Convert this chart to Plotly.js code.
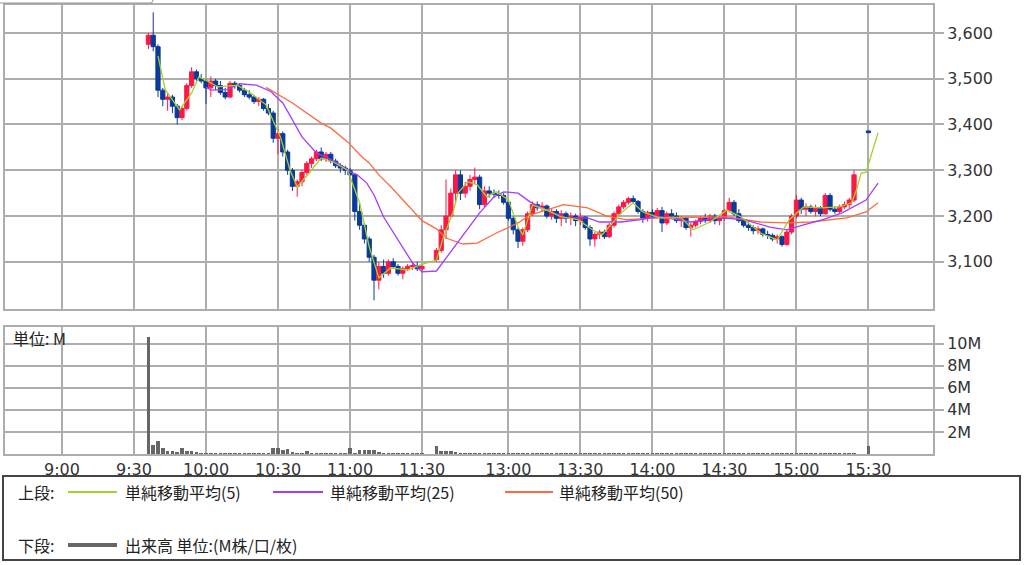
<!DOCTYPE html>
<html><head><meta charset="utf-8">
<script src="https://cdn.plot.ly/plotly-3.0.1.min.js"></script>
<style>html,body{margin:0;padding:0;background:#fff}#chart{width:1024px;height:565px}</style>
</head><body><div id="chart"></div>
<script>
// ---- data (2-minute bars) ----
const times = ['9:36','9:38','9:40','9:42','9:44','9:46','9:48','9:50','9:52','9:54','9:56','9:58',
'10:00','10:02','10:04','10:06','10:08','10:10','10:12','10:14','10:16','10:18','10:20','10:22','10:24','10:26','10:28','10:30','10:32','10:34','10:36','10:38','10:40','10:42','10:44','10:46','10:48','10:50','10:52','10:54','10:56','10:58',
'11:00','11:02','11:04','11:06','11:08','11:10','11:12','11:14','11:16','11:18','11:20','11:22','11:24','11:26','11:28','11:30',
'12:30','12:32','12:34','12:36','12:38','12:40','12:42','12:44','12:46','12:48','12:50','12:52','12:54','12:56','12:58',
'13:00','13:02','13:04','13:06','13:08','13:10','13:12','13:14','13:16','13:18','13:20','13:22','13:24','13:26','13:28','13:30','13:32','13:34','13:36','13:38','13:40','13:42','13:44','13:46','13:48','13:50','13:52','13:54','13:56','13:58',
'14:00','14:02','14:04','14:06','14:08','14:10','14:12','14:14','14:16','14:18','14:20','14:22','14:24','14:26','14:28','14:30','14:32','14:34','14:36','14:38','14:40','14:42','14:44','14:46','14:48','14:50','14:52','14:54','14:56','14:58',
'15:00','15:02','15:04','15:06','15:08','15:10','15:12','15:14','15:16','15:18','15:20','15:22','15:24','15:30'];
const openP = [3575,3595,3570,3475,3455,3460,3440,3415,3435,3485,3515,3500,
3495,3480,3495,3485,3470,3460,3490,3485,3475,3465,3460,3450,3455,3435,3425,3370,3380,3340,3300,3265,3275,3295,3315,3325,3340,3325,3335,3320,3310,3305,
3300,3290,3210,3180,3150,3110,3060,3090,3075,3100,3090,3075,3085,3090,3092,3085,
3105,3125,3170,3200,3250,3290,3250,3265,3280,3285,3225,3255,3250,3248,3245,
3230,3195,3170,3145,3170,3205,3225,3218,3222,3200,3210,3195,3205,3195,3200,3190,3198,3175,3150,3160,3165,3155,3180,3205,3220,3230,3238,3232,3210,3195,
3208,3200,3212,3185,3205,3200,3190,3195,3175,3180,3188,3195,3190,3200,3190,3195,3212,3230,3205,3190,3180,3175,3168,3172,3160,3158,3150,3155,3138,3165,
3200,3235,3215,3220,3210,3218,3205,3245,3215,3210,3220,3225,3235,3386];
const highP = [3600,3645,3575,3480,3470,3465,3445,3440,3490,3525,3520,3510,
3500,3505,3500,3495,3480,3495,3495,3490,3480,3475,3465,3460,3458,3445,3430,3390,3385,3345,3305,3280,3300,3320,3330,3345,3350,3340,3340,3325,3315,3310,
3305,3292,3230,3185,3155,3115,3100,3105,3105,3108,3095,3090,3095,3098,3100,3095,
3130,3180,3280,3260,3300,3300,3275,3290,3306,3290,3265,3265,3258,3256,3250,
3235,3200,3175,3175,3210,3232,3232,3230,3225,3215,3215,3213,3210,3208,3205,3205,3200,3180,3165,3170,3170,3185,3210,3225,3235,3242,3245,3235,3215,3212,
3215,3218,3220,3210,3215,3208,3200,3198,3185,3192,3200,3205,3205,3205,3200,3215,3240,3235,3215,3195,3188,3180,3178,3175,3168,3162,3160,3158,3170,3205,
3246,3240,3228,3225,3225,3222,3250,3250,3222,3225,3232,3240,3300,3386];
const lowP = [3565,3560,3460,3440,3430,3425,3400,3410,3430,3480,3495,3490,
3445,3460,3475,3465,3455,3458,3478,3470,3460,3455,3445,3440,3430,3420,3360,3335,3330,3290,3255,3242,3265,3290,3305,3320,3320,3318,3315,3305,3295,3290,
3280,3190,3170,3140,3100,3016,3040,3065,3070,3085,3070,3062,3080,3082,3080,3080,
3100,3120,3150,3195,3230,3235,3240,3255,3270,3215,3220,3240,3240,3238,3225,
3190,3160,3130,3135,3165,3200,3212,3210,3195,3192,3185,3178,3185,3180,3178,3180,3170,3135,3133,3150,3150,3152,3175,3200,3215,3225,3228,3205,3185,3188,
3195,3195,3165,3180,3195,3185,3176,3170,3155,3175,3182,3185,3185,3182,3180,3190,3208,3200,3185,3175,3168,3160,3160,3155,3150,3145,3140,3133,3135,3160,
3195,3205,3200,3205,3200,3200,3203,3210,3205,3205,3215,3218,3230,3382];
const closeP = [3595,3570,3475,3455,3460,3440,3415,3435,3485,3515,3500,3495,
3480,3495,3485,3470,3460,3490,3485,3475,3465,3460,3450,3455,3435,3425,3370,3380,3340,3300,3265,3275,3295,3315,3325,3340,3325,3335,3320,3310,3305,3300,
3290,3210,3180,3150,3110,3060,3090,3075,3100,3090,3075,3085,3090,3092,3085,3090,
3125,3170,3200,3250,3290,3250,3265,3280,3285,3225,3255,3250,3248,3245,3230,
3195,3170,3145,3170,3205,3225,3218,3222,3200,3210,3195,3205,3195,3200,3190,3198,3175,3150,3160,3165,3155,3180,3205,3220,3230,3238,3232,3210,3195,3208,
3200,3212,3185,3205,3200,3190,3195,3175,3180,3188,3195,3190,3200,3190,3195,3212,3230,3205,3190,3180,3175,3168,3172,3160,3158,3150,3155,3138,3165,3200,
3235,3215,3220,3210,3218,3205,3245,3215,3210,3220,3225,3235,3290,3382];
const volumeM = [10.6,0.8,1.2,0.5,0.3,0.3,0.2,0.5,0.3,0.25,0.2,0.1,
0.08,0.06,0.05,0.05,0.05,0.06,0.05,0.05,0.05,0.05,0.05,0.05,0.06,0.08,0.5,0.5,0.35,0.45,0.2,0.1,0.08,0.3,0.08,0.06,0.06,0.05,0.05,0.05,0.05,0.08,
0.5,0.1,0.4,0.4,0.35,0.4,0.2,0.1,0.08,0.06,0.05,0.05,0.05,0.05,0.05,0.06,
0.7,0.3,0.3,0.3,0.15,0.1,0.1,0.1,0.1,0.1,0.1,0.1,0.1,0.1,0.1,
0.12,0.12,0.12,0.12,0.12,0.12,0.12,0.12,0.12,0.12,0.12,0.12,0.12,0.12,0.12,0.12,0.12,0.12,0.12,0.12,0.12,0.12,0.12,0.12,0.12,0.12,0.12,0.12,0.12,0.12,
0.12,0.12,0.12,0.12,0.12,0.12,0.12,0.12,0.12,0.12,0.12,0.12,0.12,0.12,0.12,0.12,0.12,0.12,0.12,0.12,0.12,0.12,0.12,0.12,0.12,0.12,0.12,0.12,0.12,0.12,
0.12,0.12,0.12,0.12,0.12,0.12,0.12,0.12,0.12,0.12,0.12,0.12,0.12,0.75];

// moving averages as drawn
const ma5Times = ['9:40','9:43','9:49','9:54','9:57','10:00','10:05','10:13','10:18','10:25','10:31','10:35','10:38','10:43','10:48','10:53','10:59','11:04','11:08','11:12','11:17','11:24','11:29','12:30','12:33','12:37','12:39','12:43','12:47','12:51','12:55','13:00','13:04','13:06','13:10','13:16','13:22','13:29','13:35','13:39','13:47','13:52','13:56','14:03','14:12','14:17','14:24','14:31','14:37','14:45','14:52','14:57','15:03','15:10','15:18','15:23','15:25','15:27','15:29','15:32','15:34'];
const ma5 = [3550,3476,3432,3469,3504,3497,3482,3486,3471,3443,3373,3300,3264,3294,3327,3318,3300,3229,3133,3065,3087,3082,3093,3104,3155,3210,3250,3275,3268,3242,3253,3235,3176,3159,3224,3213,3198,3192,3170,3159,3207,3229,3209,3196,3196,3170,3187,3213,3198,3163,3148,3192,3220,3218,3220,3229,3257,3294,3296,3345,3382];
const ma25Times = ['10:00','10:02','10:09','10:14','10:21','10:27','10:32','10:36','10:40','10:46','10:55','11:00','11:03','11:07','11:10','11:14','11:21','11:26','11:30','12:30','12:34','12:40','12:48','12:54','12:58','13:04','13:09','13:16','13:24','13:33','13:38','13:47','13:55','14:03','14:16','14:28','14:38','14:49','14:56','15:03','15:11','15:19','15:29','15:34'];
const ma25 = [3482,3475,3476,3489,3486,3472,3447,3410,3373,3338,3316,3297,3290,3272,3246,3198,3141,3098,3078,3080,3108,3150,3207,3242,3253,3250,3231,3213,3196,3196,3187,3187,3192,3199,3187,3196,3192,3176,3170,3181,3192,3207,3235,3272];
const ma50Times = ['10:25','10:36','10:48','10:52','10:59','11:05','11:08','11:12','11:17','11:26','11:30','12:30','12:34','12:41','12:47','12:55','13:04','13:09','13:23','13:33','13:41','13:49','14:00','14:07','14:31','14:45','14:56','15:06','15:21','15:29','15:34'];
const ma50 = [3481,3447,3403,3392,3362,3329,3316,3290,3264,3213,3190,3172,3152,3139,3141,3163,3185,3202,3225,3218,3200,3192,3196,3197,3198,3187,3185,3187,3196,3209,3229];

const xTickLabels = ['9:00','9:30','10:00','10:30','11:00','11:30','13:00','13:30','14:00','14:30','15:00','15:30'];
const priceTicks = [3100,3200,3300,3400,3500,3600];
const volTicks = [2,4,6,8,10];
const volTickLabels = ['2M','4M','6M','8M','10M'];

// ---- scale helpers ----
// time -> axis minutes (lunch break compressed)
function toX(s){ const p=s.split(':').map(Number); let t=(p[0]-9)*60+p[1]; if(t>=210) t-=54; return t; }
const L=5, R=933, T=5, B=454, W=1024, H=565;
const px = x => (x-L)/(R-L);
const py = y => (B-y)/(B-T);

const GRID='#adadad', FONT='DejaVu Sans', JP='Noto Sans CJK JP';
const xr=[-23.75, 362.9];

const traces = [
 {type:'candlestick', x:times.map(toX), open:openP, high:highP, low:lowP, close:closeP,
  xaxis:'x', yaxis:'y', whiskerwidth:0, hoverinfo:'skip', showlegend:false,
  increasing:{line:{color:'#ff1744',width:1}, fillcolor:'#ff1744'},
  decreasing:{line:{color:'#0a3a9a',width:1}, fillcolor:'#0a3a9a'}},
 {type:'scatter', mode:'lines', x:ma50Times.map(toX), y:ma50, xaxis:'x', yaxis:'y', line:{color:'#ff6a3d',width:1.3}, hoverinfo:'skip'},
 {type:'scatter', mode:'lines', x:ma25Times.map(toX), y:ma25, xaxis:'x', yaxis:'y', line:{color:'#a23cff',width:1.3}, hoverinfo:'skip'},
 {type:'scatter', mode:'lines', x:ma5Times.map(toX), y:ma5, xaxis:'x', yaxis:'y', line:{color:'#a4d12c',width:1.3}, hoverinfo:'skip'},
 {type:'bar', x:times.map(toX), y:volumeM, xaxis:'x2', yaxis:'y2', width:1.5, marker:{color:'#666',line:{width:0}}, hoverinfo:'skip'}
];

const axBase = {showgrid:true, gridcolor:GRID, gridwidth:2, showline:true, mirror:true, linecolor:GRID, linewidth:2, zeroline:false, fixedrange:true};
const tickX = xTickLabels.map(toX);

const txt = (s,x,y)=>({text:s, x:px(x), y:py(y), xref:'paper', yref:'paper', xanchor:'left', yanchor:'middle', showarrow:false, font:{family:JP,size:16,color:'#222'}});
const ann = [
 txt('単位: M',11,338),
 txt('上段:',16,492),
 txt('単純移動平均(5)',123,492),
 txt('単純移動平均(25)',328,492),
 txt('単純移動平均(50)',557,492),
 txt('下段:',16,545),
 txt('出来高 単位:(M株/口/枚)',123,545)
];
const hline = (x0,x1,y,color,w)=>({type:'line', xref:'paper', yref:'paper', x0:px(x0), x1:px(x1), y0:py(y), y1:py(y), line:{color:color,width:w}});
const shapes = [
 {type:'rect', xref:'paper', yref:'paper', x0:px(3), x1:px(1020), y0:py(476), y1:py(560), line:{color:'#444',width:2}, fillcolor:'rgba(0,0,0,0)'},
 hline(68,117,492,'#a4d12c',2),
 hline(273,323,492,'#a23cff',2),
 hline(505,553,492,'#ff6a3d',2),
 hline(68,117,545,'#666',4),
 {type:'path', xref:'paper', yref:'paper', path:'M '+px(0)+' '+py(3)+' L '+px(150)+' '+py(3)+' Q '+px(153)+' '+py(3)+' '+px(153)+' '+py(0), line:{color:'#999',width:1}}
];

const layout = {
 width:W, height:H, margin:{l:L, r:W-R, t:T, b:H-B, pad:0},
 paper_bgcolor:'#fff', plot_bgcolor:'#fff', showlegend:false, bargap:0, boxgap:0.12, boxgroupgap:0,
 xaxis: Object.assign({}, axBase, {domain:[0,1], anchor:'y', range:xr, tickvals:tickX, ticktext:xTickLabels, showticklabels:false, ticks:'', rangeslider:{visible:false}}),
 xaxis2: Object.assign({}, axBase, {domain:[0,1], anchor:'y2', range:xr, tickvals:tickX, ticktext:xTickLabels, showticklabels:true, ticks:'', tickfont:{family:FONT,size:16,color:'#333'}}),
 yaxis: Object.assign({}, axBase, {domain:[py(309),1], anchor:'x', side:'right', range:[2997,3661], tickvals:priceTicks, tickformat:',', ticks:'outside', ticklen:9, tickwidth:2, tickcolor:GRID, tickfont:{family:FONT,size:16,color:'#333'}}),
 yaxis2: Object.assign({}, axBase, {domain:[0,py(327)], anchor:'x2', side:'right', range:[0,11.5], tickvals:volTicks, ticktext:volTickLabels, ticks:'outside', ticklen:9, tickwidth:2, tickcolor:GRID, tickfont:{family:FONT,size:16,color:'#333'}}),
 annotations: ann, shapes: shapes
};
Plotly.newPlot('chart', traces, layout, {staticPlot:true, displayModeBar:false});
</script></body></html>
